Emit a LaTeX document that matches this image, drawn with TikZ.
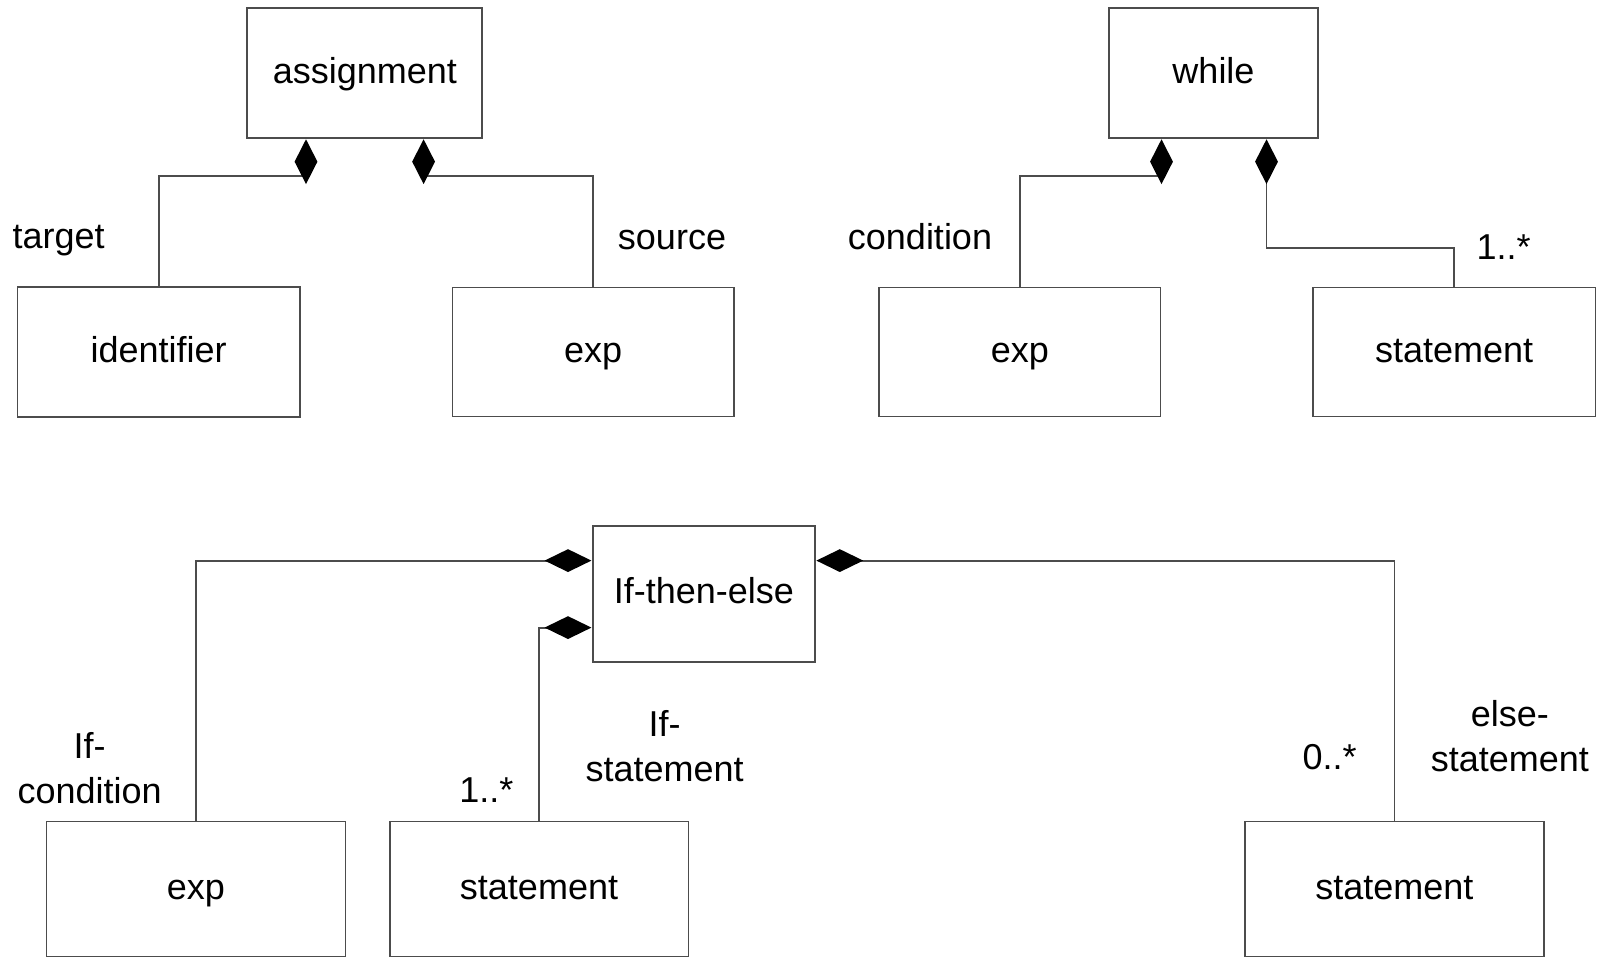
\documentclass[tikz,border=0pt]{standalone}
\usepackage{fontspec}
\setmainfont{Liberation Sans}
\usetikzlibrary{shapes.geometric,backgrounds}
\tikzset{
  umlbox/.style={draw=black!70, line width=1.8pt, rectangle, inner sep=0pt,
    text height=25pt, text depth=5pt,
    font=\fontsize{36}{45}\selectfont},
  lbl/.style={inner sep=0pt, align=center, font=\fontsize{36}{45}\selectfont},
  conn/.style={draw=black!70, line width=1.8pt},
  vdia/.style={diamond, fill=black, inner sep=0pt, minimum width=23, minimum height=45, anchor=north},
  hdia/.style={diamond, fill=black, inner sep=0pt, minimum width=47, minimum height=23},
}
\begin{document}
\begin{tikzpicture}[x=1pt,y=-1pt]
\useasboundingbox (0,0) rectangle (1616,957);

% assignment composition
\node[umlbox, minimum width=235, minimum height=130] (assign) at (364.8,73.1) {assignment};
\node[umlbox, minimum width=282.4, minimum height=129.5] (ident) at (158.7,352) {identifier};
\node[umlbox, minimum width=281.4, minimum height=129] (expA) at (593.1,352) {exp};
\node[vdia] (dA1) at ([xshift=-58.8]assign.south) {};
\node[vdia] (dA2) at ([xshift=58.8]assign.south) {};
\node[lbl] (ltarget) at (58.7,240.5) {target};
\node[lbl] (lsource) at (672,240) {source};

% while composition
\node[umlbox, minimum width=209.2, minimum height=130] (while) at (1213.5,73.1) {while};
\node[umlbox, minimum width=281.4, minimum height=129] (expW) at (1019.8,352) {exp};
\node[umlbox, minimum width=282.4, minimum height=129] (stmtW) at (1454.2,352) {statement};
\node[vdia] (dW1) at ([xshift=-52]while.south) {};
\node[vdia] (dW2) at ([xshift=53]while.south) {};
\node[lbl] (lcond) at (920,237) {condition};
\node[lbl] (lmultW) at (1503.6,247.3) {1..*};

% if-then-else composition
\node[umlbox, minimum width=222.6, minimum height=136] (ite) at (703.9,593.6) {If-then-else};
\node[umlbox, minimum width=299, minimum height=135] (expI) at (195.9,889) {exp};
\node[umlbox, minimum width=298.8, minimum height=135] (stmtI) at (539,889) {statement};
\node[umlbox, minimum width=298.8, minimum height=135] (stmtE) at (1394.4,889) {statement};
\node[hdia, anchor=east] (dI1) at (ite.west |- 0,560.6) {};
\node[hdia, anchor=east] (dI2) at (ite.west |- 0,627.6) {};
\node[hdia, anchor=west] (dI3) at (ite.east |- 0,560.6) {};
\node[lbl] (lifcond) at (89.7,767.8) {If-\\condition};
\node[lbl] (lmultI) at (486.4,790.5) {1..*};
\node[lbl] (lifstmt) at (664.7,746.6) {If-\\statement};
\node[lbl] (lmultE) at (1329.5,757.5) {0..*};
\node[lbl] (lelse) at (1509.8,735.7) {else-\\statement};

\begin{scope}[on background layer]
  \draw[conn] (dA1.center) |- (ident.north |- 0,176) -- (ident.north);
  \draw[conn] (dA2.center) |- (expA.north |- 0,176) -- (expA.north);
  \draw[conn] (dW1.center) |- (expW.north |- 0,176) -- (expW.north);
  \draw[conn] (dW2.center) |- (stmtW.north |- 0,248.4) -- (stmtW.north);
  \draw[conn] (dI1.center) -| (expI.north);
  \draw[conn] (dI2.center) -| (stmtI.north);
  \draw[conn] (dI3.center) -| (stmtE.north);
\end{scope}
\end{tikzpicture}
\end{document}
